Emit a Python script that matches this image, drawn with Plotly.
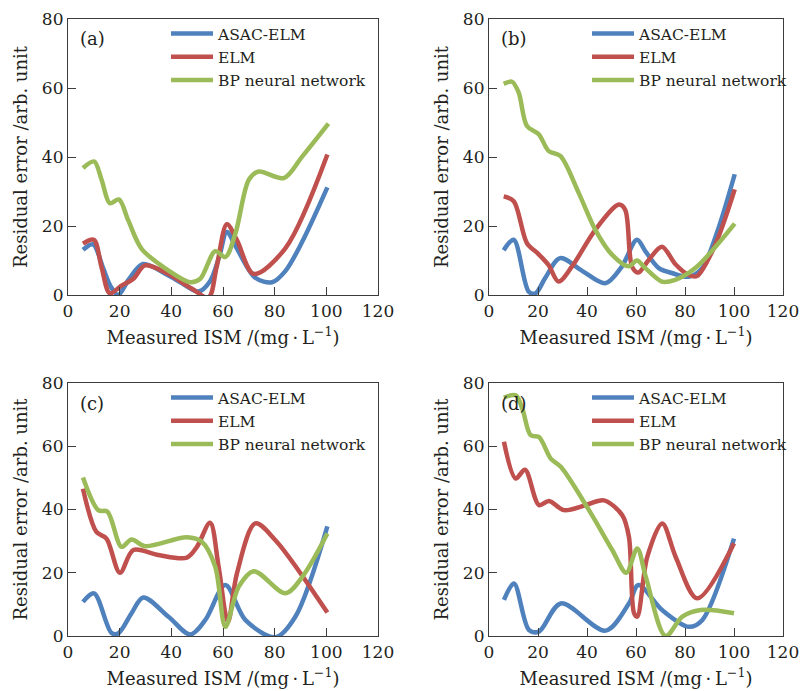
import plotly.graph_objects as go

# ---------------- data ----------------
series_names = ["ASAC-ELM", "ELM", "BP neural network"]
series_colors = ["#4F81BD", "#C0504D", "#9BBB59"]
panel_labels = ["(a)", "(b)", "(c)", "(d)"]
x_ticks = [0, 20, 40, 60, 80, 100, 120]
y_ticks = [0, 20, 40, 60, 80]

# panel (a)
xa_asac = [5.8, 9.7, 13.5, 16.5, 19.4, 23.5, 29, 38, 45, 50.5, 55, 58.5, 61.5, 65, 72.5, 79, 84.2, 90.7, 100.4]
ya_asac = [13.1, 14.7, 8, 2.5, 0, 4.5, 9, 6, 3, 1, 4, 11, 18.3, 14, 5, 3.7, 7, 15.5, 31.2]
xa_elm = [5.8, 10, 13, 16.2, 20.7, 25.3, 29.8, 38.9, 48, 54.4, 57.5, 61.5, 65.4, 71.9, 84.2, 100.4]
ya_elm = [14.9, 16, 8, 0.5, 2.7, 4.7, 8.6, 6.1, 1.8, -0.7, 8, 20.5, 15.9, 6.1, 13.6, 40.7]
xa_bp = [5.8, 10.1, 13, 16.2, 19.7, 23.3, 28.5, 38.9, 47.3, 51.2, 57, 60.9, 64.8, 70, 73.8, 83.5, 90.7, 100.8]
ya_bp = [36.8, 38.7, 33.4, 26.6, 27.7, 21.7, 13.4, 7.1, 3.7, 4.7, 12.7, 11, 17.8, 33.4, 35.8, 33.9, 40.2, 49.7]

# panel (b)
xb_asac = [6, 10.1, 16.2, 19, 23, 29, 38, 47.5, 54, 60.4, 64, 69.3, 75, 81.5, 87, 93, 100.3]
yb_asac = [13, 16, 1, 0.5, 5, 10.7, 7, 3.4, 8, 16, 12.5, 7.8, 6.3, 5.3, 7.8, 18, 35]
xb_elm = [6, 10.1, 15.5, 20, 24.3, 28.4, 33.9, 43.4, 53, 55.6, 58.4, 61, 65, 70.6, 76, 81.5, 84.9, 92, 100.3]
yb_elm = [28.6, 27.2, 15, 12, 8.7, 3.9, 8.3, 18.9, 26.2, 24.7, 8.2, 6.5, 10, 14, 9, 5.8, 5.5, 14, 30.6]
xb_bp = [6, 9.4, 12.1, 15.5, 20.3, 24.4, 29.1, 36.6, 43.4, 50.2, 57, 60.4, 63.8, 70.6, 76, 84.2, 100.3]
yb_bp = [61.2, 61.8, 58.7, 49, 46.6, 41.7, 40.3, 29.6, 18.9, 11.7, 8.3, 10, 7.8, 3.9, 4.4, 7.8, 20.7]

# panel (c)
xc_asac = [5.8, 10.1, 16.8, 19.4, 24.6, 29.1, 38.9, 47.3, 53.1, 60.9, 68.7, 80.3, 88, 100.4]
yc_asac = [10.8, 13.5, 1, 0.8, 7.2, 12.2, 6.1, 0.5, 5, 16.1, 5, -0.4, 6.1, 34.7]
xc_elm = [5.8, 11, 14.9, 20.1, 25.3, 35, 46, 49.9, 55, 58.3, 61.9, 65.4, 72.5, 80.3, 100.4]
yc_elm = [46.6, 32.9, 30.8, 20, 27.2, 25.6, 24.8, 28.2, 35.8, 21.9, 4.5, 19.8, 35.6, 30.3, 7.4]
xc_bp = [5.8, 11.7, 15.3, 20.7, 24.6, 29.8, 46, 51.8, 57, 60.9, 66.1, 71.9, 84.2, 90.7, 100.4]
yc_bp = [50.1, 39.8, 39.3, 28.2, 30.5, 28.4, 31.2, 29.8, 21.9, 2.9, 15.6, 20.5, 13.5, 18.7, 32.4]

# panel (d)
xd_asac = [6.1, 10.2, 16.3, 20.4, 29.3, 47.6, 57.1, 61, 70.7, 81.6, 87, 100]
yd_asac = [11.4, 16.6, 1.9, 1.4, 10.3, 1.7, 10.3, 16.1, 8.2, 2.9, 5, 30.8]
xd_elm = [6.1, 10.9, 14.7, 20.4, 24.5, 30.6, 39.5, 46.9, 54.4, 57.1, 59.2, 60.5, 64.6, 70.7, 76.2, 85, 100]
yd_elm = [61.4, 49.8, 52.6, 41.4, 42.7, 39.8, 41.4, 42.9, 38.2, 31.4, 7.2, 6.1, 25, 35.6, 25, 11.9, 29.3]
xd_bp = [6.1, 10.9, 13.6, 17, 20.4, 25.2, 29.3, 40.8, 50.3, 56, 60.5, 64, 72.1, 78.9, 86.4, 100]
yd_bp = [75.4, 76.1, 71.9, 63.5, 62.9, 56.1, 53.5, 39.8, 27.2, 20, 27.7, 18.7, 0, 6.1, 8.2, 7.2]

panels = [
    [(xa_asac, ya_asac), (xa_elm, ya_elm), (xa_bp, ya_bp)],
    [(xb_asac, yb_asac), (xb_elm, yb_elm), (xb_bp, yb_bp)],
    [(xc_asac, yc_asac), (xc_elm, yc_elm), (xc_bp, yc_bp)],
    [(xd_asac, yd_asac), (xd_elm, yd_elm), (xd_bp, yd_bp)],
]

# ---------------- layout geometry (pixels) ----------------
W, H = 802, 691
col_px = [(68, 378), (489, 783)]
row_px = [(19, 295), (383, 636)]

FONT = "DejaVu Serif"
TXT = "#231f20"
AX = "#3c3c3c"

fig = go.Figure()
layout = dict(
    width=W, height=H,
    margin=dict(l=0, r=0, t=0, b=0),
    paper_bgcolor="white", plot_bgcolor="white",
    font=dict(family=FONT, size=17, color=TXT),
    showlegend=True,
)
annotations = []

for i, data in enumerate(panels):
    r, c = divmod(i, 2)
    x0, x1 = col_px[c]
    t, b = row_px[r]
    sfx = "" if i == 0 else str(i + 1)
    xref, yref = "x" + sfx, "y" + sfx
    leg = "legend" + sfx
    for k, (xs, ys) in enumerate(data):
        fig.add_trace(go.Scatter(
            x=xs, y=ys, mode="lines", name=series_names[k],
            line=dict(color=series_colors[k], width=4.5, shape="spline", smoothing=0.9),
            xaxis=xref, yaxis=yref, legend=leg, showlegend=True,
        ))
    axcommon = dict(showgrid=False, zeroline=False, ticks="inside", ticklen=8, tickwidth=1.2,
                    tickcolor=AX, linecolor=AX, linewidth=1.2, mirror=True,
                    tickfont=dict(family=FONT, size=17, color=TXT), automargin=False)
    layout["xaxis" + sfx] = dict(
        domain=[x0 / W, x1 / W], anchor=yref, range=[0, 120], tickvals=x_ticks,
        title=dict(text="Measured ISM /(mg\u2009·\u2009L<sup>\u22121</sup>)",
                   font=dict(family=FONT, size=18, color=TXT), standoff=11),
        **axcommon)
    layout["yaxis" + sfx] = dict(
        domain=[1 - b / H, 1 - t / H], anchor=xref, range=[0, 80], tickvals=y_ticks,
        title=dict(text="Residual error /arb. unit",
                   font=dict(family=FONT, size=18, color=TXT), standoff=9),
        **axcommon)
    layout[leg] = dict(
        x=(x0 + 98) / W, y=1 - (t - 2) / H, xanchor="left", yanchor="top",
        bgcolor="rgba(0,0,0,0)", borderwidth=0, itemwidth=42,
        font=dict(family=FONT, size=15.5, color=TXT), tracegroupgap=0,
    )
    annotations.append(dict(
        text=panel_labels[i], xref="paper", yref="paper",
        x=(x0 + 10) / W, y=1 - (t + 20) / H, xanchor="left", yanchor="middle",
        showarrow=False, font=dict(family=FONT, size=18, color=TXT)))

layout["annotations"] = annotations
fig.update_layout(**layout)
fig.write_html("out.html")
